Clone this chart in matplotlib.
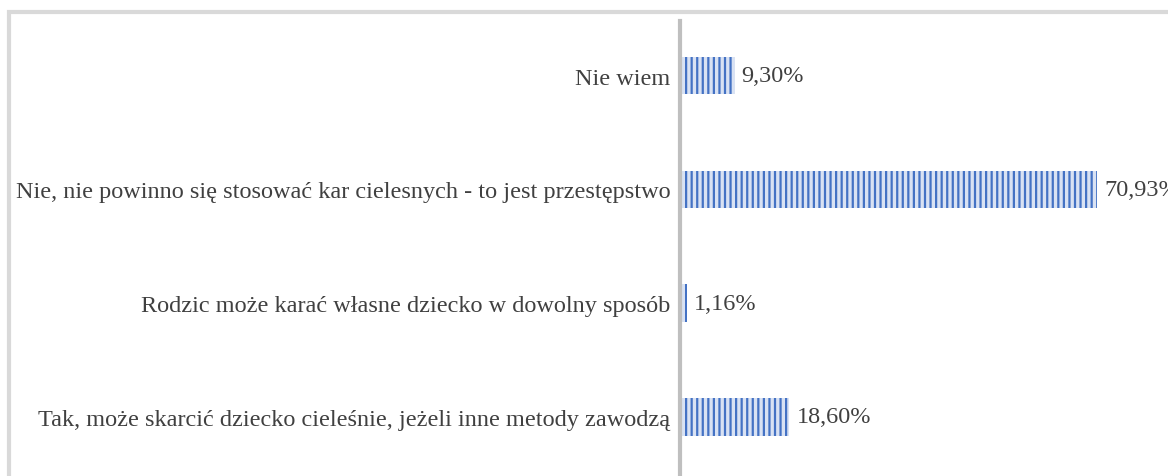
import matplotlib.pyplot as plt
from matplotlib.patches import Rectangle

categories = [
    "Tak, może skarcić dziecko cieleśnie, jeżeli inne metody zawodzą",
    "Rodzic może karać własne dziecko w dowolny sposób",
    "Nie, nie powinno się stosować kar cielesnych - to jest przestępstwo",
    "Nie wiem",
]
values = [18.60, 1.16, 70.93, 9.30]
value_labels = ["18,60%", "1,16%", "70,93%", "9,30%"]

plt.rcParams['font.family'] = ['Liberation Serif', 'DejaVu Serif']
plt.rcParams['hatch.linewidth'] = 1.6

W, H = 1168, 477
fig = plt.figure(figsize=(W / 100, H / 100), dpi=100)

# grey frame at top-left
fig.patches.append(Rectangle((9 / W, -0.1), 2.0, 1.1 - 13 / H, transform=fig.transFigure,
                             fill=False, edgecolor='#d9d9d9', linewidth=3))

ax = fig.add_axes([680 / W, 0, (W - 680) / W, (H - 22) / H])
px = 5.88
ax.set_xlim(0, (W - 680) / px)
ax.set_ylim(-0.52, 3.48)

ypos = range(len(categories))
ax.barh(list(ypos), values, height=0.33, color='#d9e2f3', edgecolor='#4472c4',
        linewidth=0, hatch='|||')

fs = 17.5
for y, v, lab in zip(ypos, values, value_labels):
    ax.text(v + 1.2, y, lab, va='center', ha='left', fontsize=fs, color='#404040')

ax.set_yticks(list(ypos))
ax.set_yticklabels(categories, fontsize=fs, color='#404040')
ax.tick_params(axis='y', length=0, pad=7)
ax.set_xticks([])
for s in ['top', 'right', 'bottom']:
    ax.spines[s].set_visible(False)
ax.spines['left'].set_color('#bfbfbf')
ax.spines['left'].set_linewidth(3)

fig.savefig('out.png', dpi=100)
